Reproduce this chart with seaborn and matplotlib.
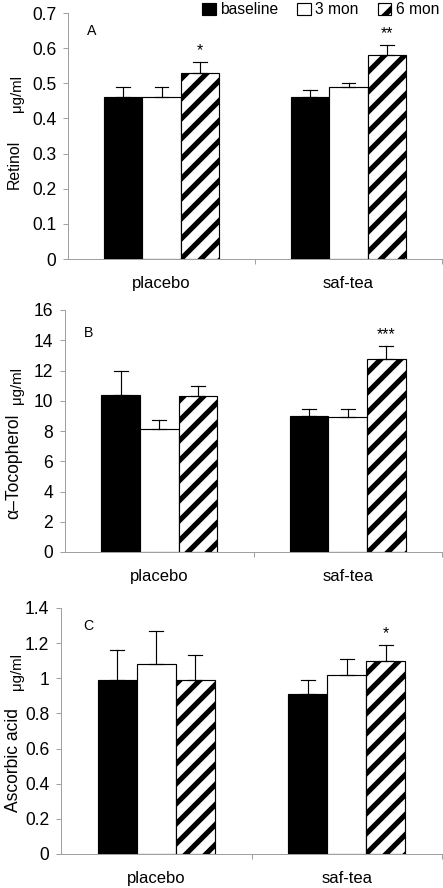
import numpy as np
import pandas as pd
import seaborn as sns
import matplotlib
matplotlib.use("Agg")
import matplotlib.pyplot as plt
from matplotlib.ticker import FuncFormatter, FixedLocator

# ---------------- data ----------------
groups = ["placebo", "saf-tea"]
periods = ["baseline", "3 mon", "6 mon"]

retinol_placebo = [0.46, 0.46, 0.53]
retinol_placebo_top = [0.49, 0.49, 0.56]
retinol_saftea = [0.46, 0.49, 0.58]
retinol_saftea_top = [0.48, 0.50, 0.61]

toco_placebo = [10.4, 8.1, 10.3]
toco_placebo_top = [12.0, 8.7, 11.0]
toco_saftea = [9.0, 8.9, 12.75]
toco_saftea_top = [9.45, 9.45, 13.6]

asc_placebo = [0.99, 1.08, 0.99]
asc_placebo_top = [1.16, 1.27, 1.13]
asc_saftea = [0.91, 1.02, 1.10]
asc_saftea_top = [0.99, 1.11, 1.19]

retinol_ticks = [0, 0.1, 0.2, 0.3, 0.4, 0.5, 0.6, 0.7]
toco_ticks = [0, 2, 4, 6, 8, 10, 12, 14, 16]
asc_ticks = [0, 0.2, 0.4, 0.6, 0.8, 1.0, 1.2, 1.4]

retinol_stars = {("placebo", "6 mon"): "*", ("saf-tea", "6 mon"): "**"}
toco_stars = {("saf-tea", "6 mon"): "***"}
asc_stars = {("saf-tea", "6 mon"): "*"}

# ---------------- style ----------------
DPI = 120
plt.rcParams["font.family"] = ["Liberation Sans", "DejaVu Sans"]
plt.rcParams["hatch.linewidth"] = 3.1
plt.rcParams["hatch.color"] = "black"

GRAY = "#a0a0a0"


def make_df(pl, pl_top, st, st_top):
    rows = []
    for g, vals, tops in [("placebo", pl, pl_top), ("saf-tea", st, st_top)]:
        for p, v, t in zip(periods, vals, tops):
            rows.append({"group": g, "period": p, "value": v})
            rows.append({"group": g, "period": p, "value": t})
    return pd.DataFrame(rows)


fig = plt.figure(figsize=(443 / DPI, 888 / DPI), dpi=DPI)

W, H = 443.0, 888.0
panels = [
    dict(box=(68, 442, 13, 259), data=(retinol_placebo, retinol_placebo_top, retinol_saftea, retinol_saftea_top),
         ticks=retinol_ticks, label="Retinol", lsize=9.5, ly=164, uy=94, letter="A", lpos=(92, 31), stars=retinol_stars),
    dict(box=(65, 442, 310, 552), data=(toco_placebo, toco_placebo_top, toco_saftea, toco_saftea_top),
         ticks=toco_ticks, label="\u03b1\u2013Tocopherol", lsize=10.5, ly=466, uy=386, letter="B", lpos=(89, 333), stars=toco_stars),
    dict(box=(61, 442, 608, 854), data=(asc_placebo, asc_placebo_top, asc_saftea, asc_saftea_top),
         ticks=asc_ticks, label="Ascorbic acid", lsize=10.5, ly=760, uy=671, letter="C", lpos=(88, 626), stars=asc_stars),
]

first_ax = None
for pdef in panels:
    l, r, t, b = pdef["box"]
    ax = fig.add_axes([l / W, 1 - b / H, (r - l) / W, (b - t) / H])
    df = make_df(*pdef["data"])
    sns.barplot(data=df, x="group", y="value", hue="period", order=groups, hue_order=periods,
                estimator="min", errorbar=lambda v: (v.min(), v.max()),
                palette=["black", "white", "white"], width=0.615,
                edgecolor="black", linewidth=0.7, capsize=0.22,
                err_kws={"color": "black", "linewidth": 0.7}, legend=False, ax=ax)
    for patch in ax.containers[2]:
        patch.set_hatch("//")

    tks = pdef["ticks"]
    ax.set_ylim(0, tks[-1])
    ax.set_xlim(-0.5, 1.5)
    ax.yaxis.set_major_locator(FixedLocator(tks))
    ax.yaxis.set_major_formatter(FuncFormatter(lambda v, pos: f"{v:g}"))
    ax.xaxis.set_minor_locator(FixedLocator([0.5, 1.5]))
    ax.tick_params(axis="y", direction="out", length=3, width=0.6, color=GRAY, labelsize=10.5, pad=4)
    ax.tick_params(axis="x", which="major", length=0, labelsize=10, pad=10)
    ax.tick_params(axis="x", which="minor", direction="out", length=3, width=0.6, color=GRAY)
    for s in ["top", "right"]:
        ax.spines[s].set_visible(False)
    for s in ["left", "bottom"]:
        ax.spines[s].set_color(GRAY)
        ax.spines[s].set_linewidth(0.6)
    ax.set_xlabel("")
    ax.set_ylabel("")

    # axis label + unit
    fig.text(14 / W, 1 - pdef["ly"] / H, pdef["label"], rotation=90, ha="center", va="center",
             fontsize=pdef["lsize"])
    fig.text(17 / W, 1 - pdef["uy"] / H, "\u03bcg/ml", rotation=90, ha="center", va="center",
             fontsize=9)
    # panel letter
    fig.text(pdef["lpos"][0] / W, 1 - pdef["lpos"][1] / H, pdef["letter"], ha="center", va="center",
             fontsize=8.5)

    # significance stars above error bars
    pl, pl_top, st, st_top = pdef["data"]
    tops = {"placebo": pl_top, "saf-tea": st_top}
    for (g, p), s in pdef["stars"].items():
        hi = periods.index(p)
        gi = groups.index(g)
        patch = ax.containers[hi][gi]
        xc = patch.get_x() + patch.get_width() / 2
        ax.annotate(s, xy=(xc, tops[g][hi]), xytext=(0, 4), textcoords="offset points",
                    ha="center", va="baseline", fontsize=9.5)

    if first_ax is None:
        first_ax = ax

fig.legend(handles=list(first_ax.containers), labels=periods, loc="center right",
           bbox_to_anchor=(439 / W, 1 - 10 / H), ncol=3, frameon=False, fontsize=9.4,
           handlelength=0.85, handleheight=0.85, handletextpad=0.3, columnspacing=1.2,
           borderpad=0, borderaxespad=0)

fig.savefig("out.png", dpi=DPI)
